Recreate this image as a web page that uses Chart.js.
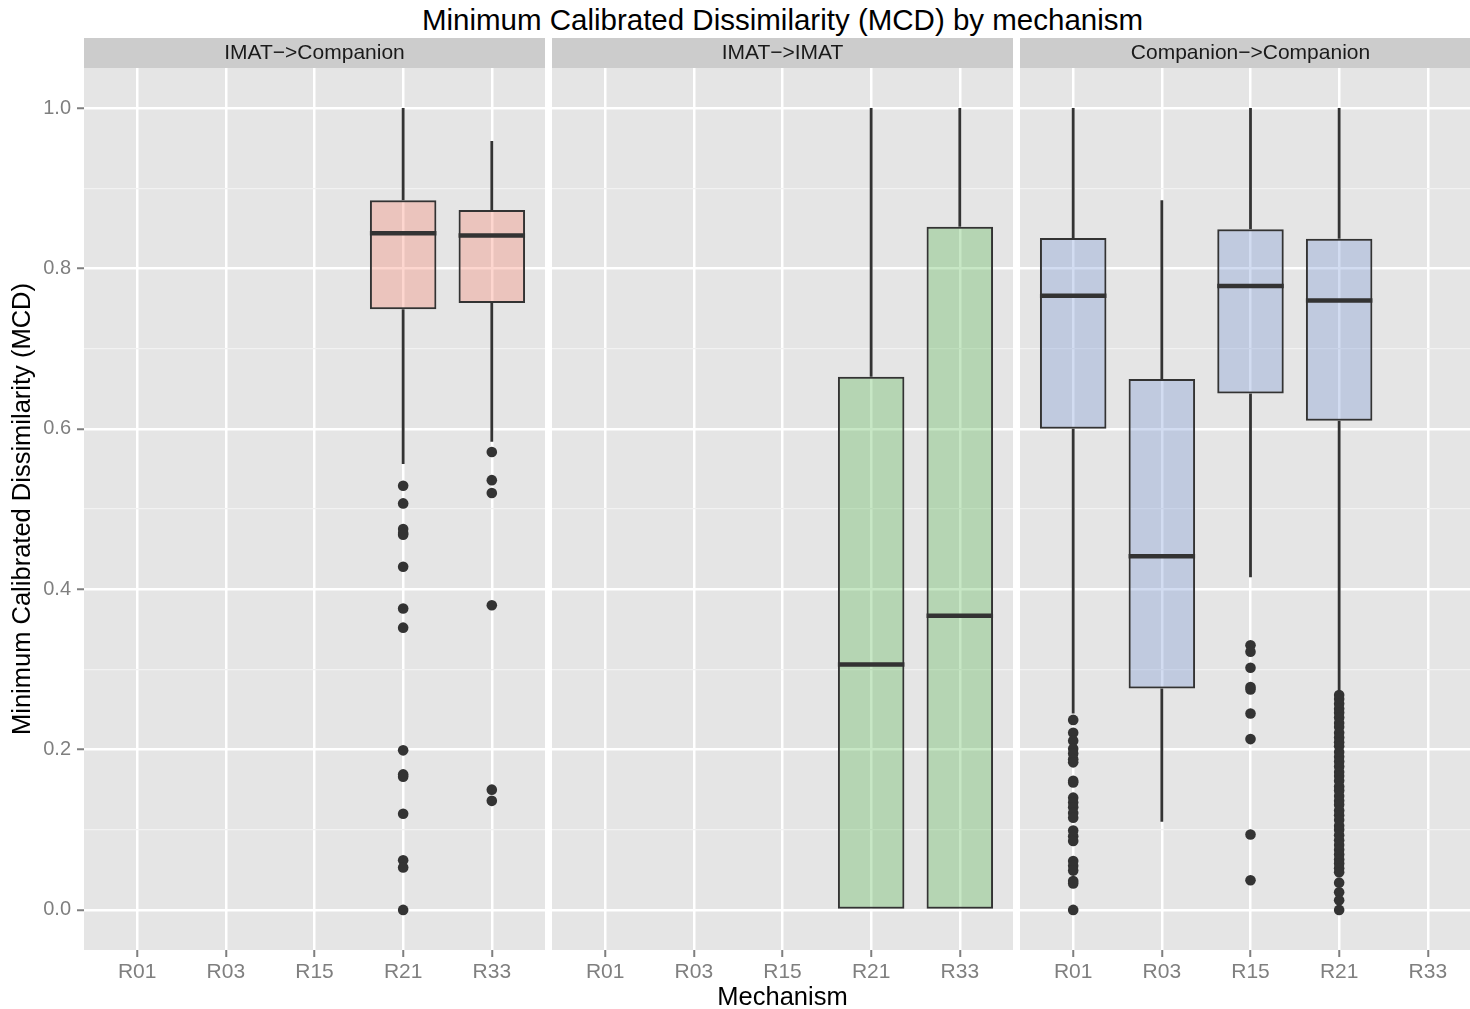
<!DOCTYPE html>
<html>
<head>
<meta charset="utf-8">
<title>Minimum Calibrated Dissimilarity (MCD) by mechanism</title>
<script src="https://cdn.jsdelivr.net/npm/chart.js@4.4.0/dist/chart.umd.min.js"></script>
<style>
    html, body { margin: 0; padding: 0; background: #ffffff; }
    body {
        width: 1470px; height: 1009px; overflow: hidden; position: relative;
        font-family: "Liberation Sans", Arial, sans-serif;
    }
    .panel { position: absolute; top: 0; }
    #title {
        position: absolute; left: 84px; width: 1397px; top: 0;
        line-height: 40px; text-align: center; font-size: 29.5px; color: #000;
    }
    #xtitle {
        position: absolute; left: 84px; width: 1397px; top: 979px;
        line-height: 34px; text-align: center; font-size: 25.5px; color: #000;
    }
</style>
</head>
<body>
<div id="title">Minimum Calibrated Dissimilarity (MCD) by mechanism</div>
<canvas id="panel1" class="panel" width="545" height="1009" style="left:0"></canvas>
<canvas id="panel2" class="panel" width="461" height="1009" style="left:552px"></canvas>
<canvas id="panel3" class="panel" width="461" height="1009" style="left:1020px"></canvas>
<div id="xtitle">Mechanism</div>

<script>
// Categories and facets
const CATEGORIES = ['R01', 'R03', 'R15', 'R21', 'R33'];
const FACETS = ['IMAT\u2212>Companion', 'IMAT\u2212>IMAT', 'Companion\u2212>Companion'];
// y grid: labelled major lines and unlabelled minor lines
const Y_GRID = [0.0, 0.1, 0.2, 0.3, 0.4, 0.5, 0.6, 0.7, 0.8, 0.9, 1.0];
const Y_LABELS = ['0.0', '', '0.2', '', '0.4', '', '0.6', '', '0.8', '', '1.0'];

// IMAT->Companion
const icCats = ['R21', 'R33'];
const icLower = [0.556, 0.584];
const icQ1 = [0.749, 0.757];
const icMedian = [0.844, 0.841];
const icQ3 = [0.885, 0.873];
const icUpper = [1.000, 0.959];
const icOutR21 = [0.529, 0.507, 0.475, 0.470, 0.468, 0.428, 0.376, 0.352, 0.199, 0.169, 0.166, 0.120, 0.062, 0.053, 0.000];
const icOutR33 = [0.571, 0.536, 0.520, 0.380, 0.150, 0.136];

// IMAT->IMAT
const iiCats = ['R21', 'R33'];
const iiLower = [0.000, 0.000];
const iiQ1 = [0.000, 0.000];
const iiMedian = [0.306, 0.367];
const iiQ3 = [0.665, 0.852];
const iiUpper = [1.000, 1.000];

// Companion->Companion
const ccCats = ['R01', 'R03', 'R15', 'R21'];
const ccLower = [0.245, 0.110, 0.415, 0.271];
const ccQ1 = [0.600, 0.276, 0.644, 0.610];
const ccMedian = [0.766, 0.441, 0.778, 0.760];
const ccQ3 = [0.838, 0.662, 0.849, 0.837];
const ccUpper = [1.000, 0.885, 1.000, 1.000];
const ccOutR01 = [0.237, 0.221, 0.211, 0.201, 0.195, 0.188, 0.184, 0.161, 0.159, 0.140, 0.134, 0.128,
                  0.121, 0.115, 0.099, 0.092, 0.086, 0.061, 0.055, 0.049, 0.036, 0.033, 0.000];
const ccOutR15 = [0.330, 0.322, 0.302, 0.278, 0.275, 0.245, 0.213, 0.094, 0.037];
const ccOutR21 = [0.268, 0.263, 0.257, 0.251, 0.246, 0.240, 0.233, 0.228, 0.221, 0.215, 0.209, 0.204,
                  0.197, 0.191, 0.185, 0.179, 0.172, 0.167, 0.161, 0.154, 0.149, 0.142, 0.136, 0.131,
                  0.124, 0.118, 0.112, 0.105, 0.100, 0.093, 0.087, 0.081, 0.075, 0.069, 0.063, 0.058,
                  0.052, 0.047, 0.034, 0.022, 0.012, 0.000];

// Fills (semi transparent, like alpha = 0.3 in the original)
const FILL_RED = 'rgba(249, 119, 96, 0.3)';
const FILL_GREEN = 'rgba(69, 176, 62, 0.3)';
const FILL_BLUE = 'rgba(106, 139, 209, 0.3)';

const BOX_WIDTH = 0.75;
const INK = '#333333';
const AXIS_GREY = '#7f7f7f';
const FONT = '"Liberation Sans", Arial, sans-serif';

function isMajor(value) {
    return Math.round(value * 10) % 2 === 0;
}

const panelBackground = {
    id: 'panelBackground',
    beforeDraw(chart, args, opts) {
        const {ctx, chartArea} = chart;
        ctx.save();
        ctx.fillStyle = '#e5e5e5';
        ctx.fillRect(chartArea.left, chartArea.top, chartArea.right - chartArea.left, chartArea.bottom - chartArea.top);
        // facet strip
        ctx.fillStyle = '#cccccc';
        ctx.fillRect(chartArea.left, chartArea.top - 30, chartArea.right - chartArea.left, 30);
        ctx.fillStyle = '#1a1a1a';
        ctx.font = '21px ' + FONT;
        ctx.textAlign = 'center';
        ctx.textBaseline = 'middle';
        ctx.fillText(opts.text, (chartArea.left + chartArea.right) / 2, chartArea.top - 14.5);
        ctx.restore();
    }
};

function makePanel(canvasId, stripText, cats, lower, q1, median, q3, upper, outliers, fill, showY) {
    const xs = cats.map(c => CATEGORIES.indexOf(c) + 1);

    const boxData = xs.map((x, i) => ({x: x, y: [q1[i], q3[i]]}));
    const whiskerData = [];
    const medianData = [];
    const outlierData = [];
    xs.forEach((x, i) => {
        whiskerData.push({x: x, y: lower[i]}, {x: x, y: q1[i]}, {x: x, y: null},
                         {x: x, y: q3[i]}, {x: x, y: upper[i]}, {x: x, y: null});
        medianData.push({x: x - BOX_WIDTH / 2, y: median[i]}, {x: x + BOX_WIDTH / 2, y: median[i]},
                        {x: x + BOX_WIDTH / 2, y: null});
        (outliers[i] || []).forEach(v => outlierData.push({x: x, y: v}));
    });

    const ctx = document.getElementById(canvasId).getContext('2d');
    return new Chart(ctx, {
        type: 'bar',
        data: {
            datasets: [
                {
                    type: 'bar',
                    data: boxData,
                    backgroundColor: fill,
                    borderColor: INK,
                    borderWidth: 2,
                    borderSkipped: false,
                    barPercentage: BOX_WIDTH,
                    categoryPercentage: 1,
                    order: 2
                },
                {
                    type: 'line',
                    data: whiskerData,
                    borderColor: INK,
                    borderWidth: 2.8,
                    borderCapStyle: 'butt',
                    pointRadius: 0,
                    fill: false,
                    spanGaps: false,
                    order: 3
                },
                {
                    type: 'line',
                    data: medianData,
                    borderColor: INK,
                    borderWidth: 4.5,
                    borderCapStyle: 'butt',
                    pointRadius: 0,
                    fill: false,
                    spanGaps: false,
                    order: 0
                },
                {
                    type: 'scatter',
                    data: outlierData,
                    backgroundColor: INK,
                    borderWidth: 0,
                    pointRadius: 5.3,
                    order: 1
                }
            ]
        },
        options: {
            responsive: false,
            animation: false,
            events: [],
            layout: {autoPadding: false, padding: {top: 68, left: 0, right: 0, bottom: 0}},
            plugins: {
                legend: {display: false},
                tooltip: {enabled: false},
                panelBackground: {text: stripText}
            },
            scales: {
                x: {
                    type: 'linear',
                    min: 0.4,
                    max: 5.6,
                    offset: false,
                    border: {display: false},
                    grid: {
                        offset: false,
                        color: '#ffffff',
                        lineWidth: 2.5,
                        tickColor: AXIS_GREY,
                        tickWidth: 2,
                        tickLength: 7
                    },
                    afterBuildTicks: scale => {
                        scale.ticks = CATEGORIES.map((c, i) => ({value: i + 1}));
                    },
                    ticks: {
                        autoSkip: false,
                        maxRotation: 0,
                        padding: 3,
                        color: AXIS_GREY,
                        font: {family: FONT, size: 21},
                        callback: v => CATEGORIES[Math.round(v) - 1]
                    },
                    afterFit: scale => { scale.height = 59; }
                },
                y: {
                    min: -0.05,
                    max: 1.05,
                    border: {display: false},
                    grid: {
                        color: c => isMajor(c.tick.value) ? '#ffffff' : '#f2f2f2',
                        lineWidth: c => isMajor(c.tick.value) ? 2.5 : 1.2,
                        drawTicks: showY,
                        tickColor: c => isMajor(c.tick.value) ? AXIS_GREY : 'rgba(0,0,0,0)',
                        tickWidth: 2,
                        tickLength: 7
                    },
                    afterBuildTicks: scale => {
                        scale.ticks = Y_GRID.map(v => ({value: v}));
                    },
                    ticks: {
                        display: showY,
                        padding: 6,
                        color: AXIS_GREY,
                        font: {family: FONT, size: 20},
                        callback: (v, i) => Y_LABELS[i]
                    },
                    title: {
                        display: showY,
                        text: 'Minimum Calibrated Dissimilarity (MCD)',
                        color: '#000000',
                        font: {family: FONT, size: 25.5},
                        padding: {top: 8, bottom: 0}
                    },
                    afterFit: scale => { scale.width = showY ? 84 : 0; }
                }
            }
        },
        plugins: [panelBackground]
    });
}

makePanel('panel1', FACETS[0], icCats, icLower, icQ1, icMedian, icQ3, icUpper,
          [icOutR21, icOutR33], FILL_RED, true);
makePanel('panel2', FACETS[1], iiCats, iiLower, iiQ1, iiMedian, iiQ3, iiUpper,
          [[], []], FILL_GREEN, false);
makePanel('panel3', FACETS[2], ccCats, ccLower, ccQ1, ccMedian, ccQ3, ccUpper,
          [ccOutR01, [], ccOutR15, ccOutR21], FILL_BLUE, false);
</script>
</body>
</html>
